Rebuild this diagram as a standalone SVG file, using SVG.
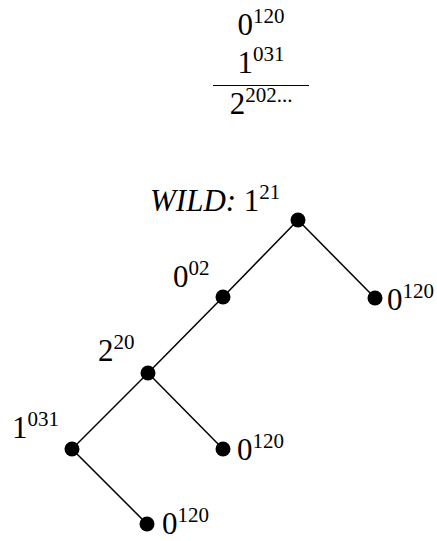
<svg xmlns="http://www.w3.org/2000/svg" width="437" height="541" viewBox="0 0 437 541">
<style>
text{font-family:"Liberation Serif","DejaVu Serif",serif;font-size:31px;fill:#000}
.sup{font-size:21px}
.it{font-style:italic}
.edge{stroke:#000;stroke-width:1.5;fill:none}
.dot{fill:#000}
</style>
<rect width="437" height="541" fill="#fff"/>
<g id="fraction">
<text x="261" y="35" text-anchor="middle">0<tspan class="sup" dy="-12">120</tspan></text>
<text x="261" y="73" text-anchor="middle">1<tspan class="sup" dy="-12">031</tspan></text>
<line x1="213" y1="85.5" x2="309" y2="85.5" stroke="#000" stroke-width="1.2"/>
<text x="261" y="114" text-anchor="middle">2<tspan class="sup" dy="-12">202...</tspan></text>
</g>
<g id="connectors">
<line class="edge" x1="298" y1="220" x2="223" y2="297"/>
<line class="edge" x1="298" y1="220" x2="375" y2="298"/>
<line class="edge" x1="223" y1="297" x2="148" y2="373"/>
<line class="edge" x1="148" y1="373" x2="223" y2="449"/>
<line class="edge" x1="148" y1="373" x2="72" y2="449"/>
<line class="edge" x1="72" y1="449" x2="147" y2="524"/>
</g>
<g id="root">
<circle class="dot" cx="298" cy="220" r="7.5"/>
<text x="150" y="210.5"><tspan class="it">WILD:</tspan> 1<tspan class="sup" dy="-12">21</tspan></text>
</g>
<g id="n02">
<circle class="dot" cx="223" cy="297" r="7.5"/>
<text x="173" y="287">0<tspan class="sup" dy="-12">02</tspan></text>
</g>
<g id="leafRight">
<circle class="dot" cx="375" cy="298" r="7.5"/>
<text x="387" y="310">0<tspan class="sup" dy="-12">120</tspan></text>
</g>
<g id="n20">
<circle class="dot" cx="148" cy="373" r="7.5"/>
<text x="98" y="361">2<tspan class="sup" dy="-12">20</tspan></text>
</g>
<g id="leafMid">
<circle class="dot" cx="223" cy="449" r="7.5"/>
<text x="237" y="460">0<tspan class="sup" dy="-12">120</tspan></text>
</g>
<g id="n031">
<circle class="dot" cx="72" cy="449" r="7.5"/>
<text x="12" y="438">1<tspan class="sup" dy="-12">031</tspan></text>
</g>
<g id="leafBottom">
<circle class="dot" cx="147" cy="524" r="7.5"/>
<text x="162" y="534">0<tspan class="sup" dy="-12">120</tspan></text>
</g>
</svg>
